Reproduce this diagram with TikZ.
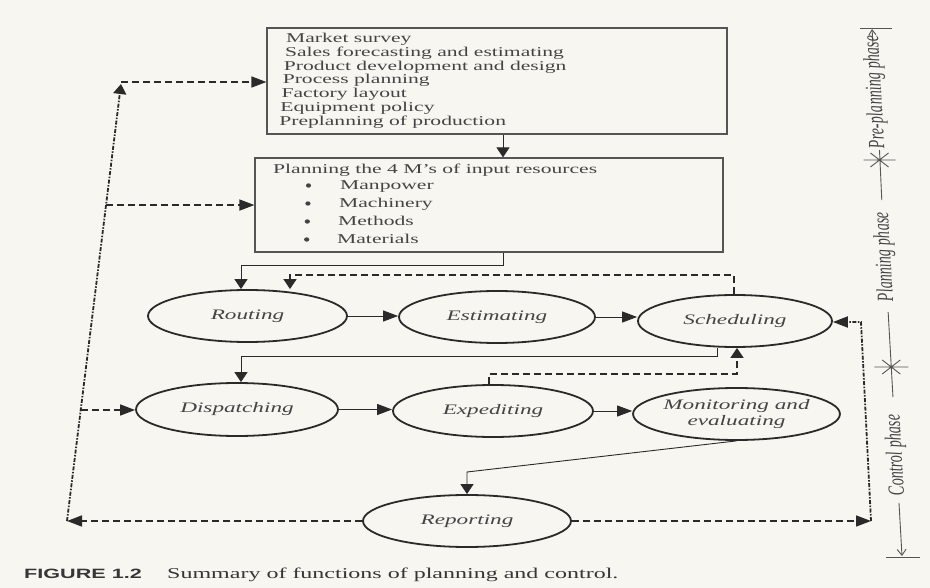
\documentclass[tikz,border=0pt]{standalone}
\usepackage{fontspec}
\setmainfont{Liberation Serif}[FakeStretch=1.6]
\setsansfont{Liberation Sans}[FakeStretch=1.6]
\newfontfamily\phasefont{Liberation Serif}[FakeStretch=0.625]
\usetikzlibrary{arrows.meta,calc,shapes.geometric}

\definecolor{paper}{HTML}{F8F6F1}
\definecolor{inkline}{HTML}{2A2A2A}
\definecolor{inktext}{HTML}{444444}
\definecolor{boxline}{HTML}{555555}

\tikzset{
  boxframe/.style={draw=boxline, line width=1.2pt, inner sep=0pt},
  boxtext/.style={inner sep=0pt, text=inktext, font=\fontsize{13.5}{13.75}\selectfont},
  stage/.style={ellipse, draw=inkline, line width=1.8pt, minimum height=52pt,
    inner sep=0pt, text=inktext, align=center,
    font=\fontsize{14.5}{16}\selectfont\itshape},
  htip/.style={-{Triangle[length=15pt,width=11pt]}},
  vtip/.style={-{Triangle[length=10pt,width=13pt]}},
  conn/.style={draw=inkline, line width=0.9pt},
  fb/.style={draw=inkline, line width=1.5pt, dash pattern=on 7pt off 4pt},
  chainline/.style={draw=inkline, line width=1.8pt, dash pattern=on 4pt off 1.5pt on 1.5pt off 1.5pt},
  phasebar/.style={draw=boxline, line width=0.9pt},
  phasetext/.style={inner sep=0pt, text=inktext, rotate=93.25,
    font=\phasefont\itshape\fontsize{23}{26}\selectfont},
}

\begin{document}
\begin{tikzpicture}[x=1pt,y=-1pt]
\fill[paper] (0,0) rectangle (930,588);
\useasboundingbox (0,0) rectangle (930,588);

% ---- pre-planning box ----
\node[boxframe, minimum width=460pt, minimum height=106pt] (prebox) at (497,81) {};
\foreach \t [count=\i from 0] in {Market survey, Sales forecasting and estimating,
    Product development and design, Process planning, Factory layout,
    Equipment policy, Preplanning of production}
  \node[boxtext, anchor=base west] (pre\i) at ({286-1.15*\i},{42.7+13.75*\i}) {\t};

% ---- resources box ----
\node[boxframe, minimum width=468pt, minimum height=94pt] (resbox) at (489,205) {};
\node[boxtext, anchor=base west] (restitle) at (273,174) {Planning the 4 M’s of input resources};
\foreach \t [count=\i from 0] in {Manpower, Machinery, Methods, Materials} {
  \fill[inktext] ({308.5-0.6*\i},{185.5+18*\i}) ellipse (2.6pt and 2.2pt);
  \node[boxtext, anchor=base west] (item\i) at ({340-1*\i},{190+18*\i}) {\t};
}

% ---- functions ----
\node[stage, minimum width=199pt] (routing)     at (247.5,316) {Routing};
\node[stage, minimum width=196pt] (estimating)  at (497,317)   {Estimating};
\node[stage, minimum width=194pt] (scheduling)  at (735,321)   {Scheduling};
\node[stage, minimum width=202pt, minimum height=53pt] (dispatching) at (237,409.5) {Dispatching};
\node[stage, minimum width=200pt] (expediting)  at (493,411)   {Expediting};
\node[stage, minimum width=197pt] (monitoring)  at (736.5,414) {Monitoring and\\evaluating};
\node[stage, minimum width=208pt] (reporting)   at (467,521)   {Reporting};

% ---- routing points ----
\coordinate (k0) at (503,0);
\coordinate (k1) at (503,265);
\coordinate (k2) at (241,265);
\coordinate (k3) at (717,356);
\coordinate (k4) at (241,356);
\coordinate (k5) at (467,472);
\coordinate (f1) at (734,275);
\coordinate (f2) at (290,275);
\coordinate (f3) at (489,374);
\coordinate (f4) at (737,374);
\coordinate (lb) at (67,521);
\coordinate (lt) at (121,84);
\coordinate (lt2) at (121,82);
\coordinate (lm) at ($(lb)!0.723!(lt)$);
\coordinate (ld) at ($(lb)!0.254!(lt)$);
\coordinate (rb) at (871,521);
\coordinate (rt) at (861,322);

% ---- main flow ----
\draw[conn, vtip] (prebox.south -| k0) -- (resbox.north -| k0);
\draw[conn, vtip] (resbox.south -| k1) -- (k1) -- (k2) -- (routing.north -| k2);
\draw[conn, htip] (routing.east) -- (routing.east -| estimating.west);
\draw[conn, htip] (estimating.east) -- (estimating.east -| scheduling.west);
\draw[conn, vtip] (scheduling.south -| k3) -- (k3) -- (k4) -- (dispatching.north -| k4);
\draw[conn, htip] (dispatching.east) -- (dispatching.east -| expediting.west);
\draw[conn, htip] (expediting.east) -- (expediting.east -| monitoring.west);
\draw[conn, vtip] (monitoring.south) -- (k5) -- (reporting.north);

% ---- feedback loops ----
\draw[fb, vtip] (scheduling.north -| f1) -- (f1) -- (f2) -- (routing.north -| f2);
\draw[fb, vtip] (expediting.north -| f3) -- (f3) -- (f4) -- (scheduling.south -| f4);
\draw[fb, htip] (reporting.west) -- (lb);
\draw[fb, htip] (reporting.east) -- (rb);
\draw[chainline, vtip] (lb) -- (lt);
\draw[fb, htip] (lt2) -- (prebox.west |- lt2);
\draw[fb, htip] (lm) -- (resbox.west |- lm);
\draw[fb, htip] (ld) -- (dispatching.west |- ld);
\draw[chainline, htip] (rb) -- (rt) -- (scheduling.east |- rt);

% ---- phase bar ----
\coordinate (pa) at (872,28);
\coordinate (pb) at (902,556);
\coordinate (s1) at ($(pa)!0.25!(pb)$);
\coordinate (s2) at ($(pa)!0.642!(pb)$);
\draw[phasebar] ($(pa)+(-12,0)$) -- ($(pa)+(20,0)$);
\draw[phasebar, -{Straight Barb[length=5pt,width=7pt]}] ($(pa)!0.032!(pb)$) -- ($(pa)!0.002!(pb)$);
\node[phasetext] (prephase) at ($(pa)!0.1212!(pb)$) {Pre-planning phase};
\draw[phasebar] ($(s1)+(-16,0)$) -- ($(s1)+(16,0)$)
  ($(s1)+(-9,-7)$) -- ($(s1)+(9,7)$) ($(s1)+(-9,7)$) -- ($(s1)+(9,-7)$)
  ($(s1)+(0,-10)$) -- ($(pa)!0.3258!(pb)$);
\node[phasetext] (planphase) at ($(pa)!0.4337!(pb)$) {Planning phase};
\draw[phasebar] ($(pa)!0.5379!(pb)$) -- ($(pa)!0.6989!(pb)$)
  ($(s2)+(-17,0)$) -- ($(s2)+(17,0)$)
  ($(s2)+(-9,-7)$) -- ($(s2)+(9,7)$) ($(s2)+(-9,7)$) -- ($(s2)+(9,-7)$);
\node[phasetext] (ctrlphase) at ($(pa)!0.8087!(pb)$) {Control phase};
\draw[phasebar, -{Straight Barb[length=6pt,width=9pt]}] ($(pa)!0.8996!(pb)$) -- (pb);
\draw[phasebar] ($(pb)+(-16,1)$) -- ($(pb)+(18,1)$);

% ---- caption ----
\node[anchor=base west, inner sep=0pt, text=inktext!80!black,
  font=\sffamily\bfseries\fontsize{13.5}{16}\selectfont] (figno) at (24,578) {FIGURE 1.2};
\node[anchor=base west, inner sep=0pt, text=inktext!80!black,
  font=\fontsize{15}{18}\selectfont] (figcap) at (167,578) {Summary of functions of planning and control.};
\end{tikzpicture}
\end{document}
